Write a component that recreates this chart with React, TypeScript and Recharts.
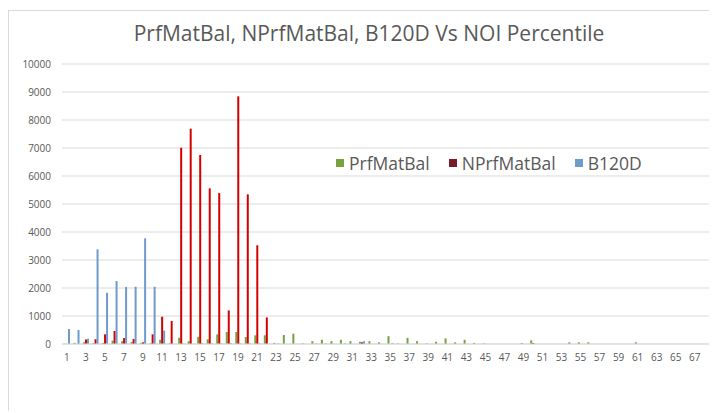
import { BarChart, Bar, XAxis, YAxis, CartesianGrid } from "recharts";

// NOI percentile buckets 1..68
const percentiles = Array.from({ length: 68 }, (_, i) => String(i + 1));

const prfMatBal = [
  10, 40, 60, 30, 40, 120, 100, 70, 40, 30,
  150, 20, 225, 100, 260, 165, 345, 430, 430, 250,
  310, 310, 40, 320, 370, 20, 100, 150, 100, 150,
  100, 80, 100, 60, 280, 20, 220, 100, 20, 80,
  200, 60, 150, 40, 20, 0, 0, 0, 40, 130,
  0, 0, 0, 60, 60, 60, 0, 0, 0, 0,
  60, 0, 0, 0, 0, 0, 0, 0,
];

const nPrfMatBal = [
  0, 0, 160, 170, 345, 465, 210, 180, 60, 345,
  975, 820, 7010, 7690, 6750, 5560, 5390, 1200, 8845, 5345,
  3525, 950, 0, 0, 0, 0, 0, 0, 0, 0,
  0, 60, 0, 0, 0, 0, 0, 0, 0, 0,
  0, 0, 0, 0, 0, 0, 0, 0, 0, 30,
  0, 0, 0, 0, 0, 0, 0, 0, 0, 0,
  0, 0, 0, 0, 0, 0, 0, 0,
];

const b120D = [
  535, 500, 190, 3380, 1830, 2250, 2035, 2045, 3775, 2045,
  480, 0, 20, 0, 30, 20, 20, 30, 20, 20,
  20, 0, 20, 0, 0, 0, 20, 20, 0, 20,
  0, 100, 0, 0, 30, 0, 0, 0, 0, 0,
  0, 0, 0, 0, 0, 0, 0, 0, 0, 0,
  0, 0, 0, 0, 0, 0, 0, 0, 0, 0,
  0, 0, 0, 0, 0, 0, 0, 0,
];

const yTicks = [0, 1000, 2000, 3000, 4000, 5000, 6000, 7000, 8000, 9000, 10000];

const GREEN = "#77a23f";
const RED = "#d40000";
const BLUE = "#6e9bcb";

const data = percentiles.map((p, i) => ({
  pct: p,
  PrfMatBal: prfMatBal[i],
  NPrfMatBal: nPrfMatBal[i],
  B120D: b120D[i],
}));

const legendItems = [
  { name: "PrfMatBal", color: GREEN },
  { name: "NPrfMatBal", color: "#7a1a2a" },
  { name: "B120D", color: BLUE },
];

// legend sits inside the plot area, to the right of the tall red bars
const ChartLegend = () => (
  <div
    style={{
      position: "absolute",
      left: 327,
      top: 140,
      display: "flex",
      alignItems: "center",
      gap: 19,
    }}
  >
    {legendItems.map((it) => (
      <div key={it.name} style={{ display: "flex", alignItems: "center", gap: 5 }}>
        <span style={{ width: 8, height: 8, background: it.color, display: "inline-block" }} />
        <span style={{ fontSize: 17.5, color: "#595959" }}>{it.name}</span>
      </div>
    ))}
  </div>
);

export default function App() {
  return (
    <div
      style={{
        position: "relative",
        width: 705,
        height: 400,
        marginTop: 2,
        borderLeft: "1px solid #d9d9d9",
        borderTop: "1px solid #d9d9d9",
        fontFamily: "'Open Sans', sans-serif",
        background: "#fff",
      }}
    >
      <div
        style={{
          position: "absolute",
          top: 8,
          left: 0,
          width: 720,
          textAlign: "center",
          fontSize: 21,
          color: "#595959",
        }}
      >
        PrfMatBal, NPrfMatBal, B120D Vs NOI Percentile
      </div>
      <BarChart
        width={705}
        height={400}
        data={data}
        margin={{ top: 53, right: 5, bottom: 37, left: 0 }}
        barGap={0}
        barSize={2}
      >
        <CartesianGrid vertical={false} stroke="#d9d9d9" />
        <XAxis
          dataKey="pct"
          interval={1}
          tickLine={false}
          axisLine={{ stroke: "#d9d9d9" }}
          tick={{ fontSize: 10, fill: "#595959" }}
          tickMargin={4}
          height={30}
        />
        <YAxis
          domain={[0, 10000]}
          ticks={yTicks}
          width={53}
          axisLine={false}
          tickLine={false}
          tickMargin={5}
          tick={{ fontSize: 10, fill: "#595959" }}
        />
        <Bar dataKey="PrfMatBal" fill={GREEN} isAnimationActive={false} />
        <Bar dataKey="NPrfMatBal" fill={RED} isAnimationActive={false} />
        <Bar dataKey="B120D" fill={BLUE} isAnimationActive={false} />
      </BarChart>
      <ChartLegend />
    </div>
  );
}
